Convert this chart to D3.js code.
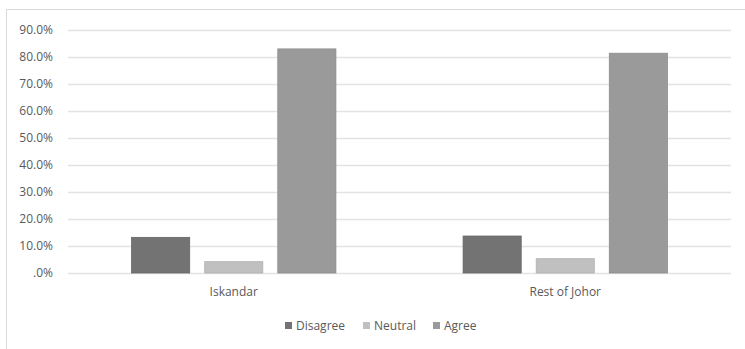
<!DOCTYPE html>
<html><head><meta charset="utf-8">
<script src="https://cdn.jsdelivr.net/npm/d3@7"></script>
<style>body{margin:0;background:#fff}svg{display:block}text{font-family:"Open Sans",sans-serif}</style>
</head><body>
<svg id="c" width="745" height="349"></svg>
<script>
const categories = ["Iskandar", "Rest of Johor"];
const seriesNames = ["Disagree", "Neutral", "Agree"];
const disagree = [13.2, 13.7];
const neutral = [4.2, 5.3];
const agree = [83.0, 81.4];
const yTicks = [0, 10, 20, 30, 40, 50, 60, 70, 80, 90];
const colors = ["#737373", "#c0c0c0", "#9a9a9a"];
const strokes = ["#666666", "#b0b0b0", "#8c8c8c"];
const values = [disagree, neutral, agree];

(function () {
const svg = d3.select("#c");
// chart border (top and left visible)
svg.append("rect").attr("x", 6.5).attr("y", 9.5).attr("width", 760).attr("height", 360)
  .attr("fill", "none").attr("stroke", "#d9d9d9").attr("stroke-width", 1);

const pL = 68, pR = 731, pT = 30, pB = 273;
const y = d3.scaleLinear().domain([0, 90]).range([pB, pT]);
const x0 = d3.scaleBand().domain(categories).range([pL, pR]).padding(0);
const x1 = d3.scaleBand().domain(seriesNames).range([0, x0.bandwidth()])
  .paddingInner(0.205).paddingOuter(0.87);

// gridlines
svg.append("g").selectAll("line").data(yTicks).join("line")
  .attr("x1", pL).attr("x2", pR)
  .attr("y1", d => Math.round(y(d)) + 0.5).attr("y2", d => Math.round(y(d)) + 0.5)
  .attr("stroke", "#e3e3e3").attr("stroke-width", 1.5);

// y labels
svg.append("g").selectAll("text").data(yTicks).join("text")
  .attr("x", 53).attr("y", d => y(d)).attr("dy", "0.35em")
  .attr("text-anchor", "end").attr("font-size", 12).attr("fill", "#595959")
  .text(d => d === 0 ? ".0%" : d.toFixed(1) + "%");

// bars
const g = svg.append("g").selectAll("g").data(categories).join("g")
  .attr("transform", d => `translate(${x0(d)},0)`);
g.selectAll("rect").data((c, ci) => seriesNames.map((s, si) => ({s, si, v: values[si][ci]})))
  .join("rect")
  .attr("x", d => x1(d.s)).attr("width", x1.bandwidth())
  .attr("y", d => y(d.v)).attr("height", d => y(0) - y(d.v))
  .attr("fill", d => colors[d.si]).attr("stroke", d => strokes[d.si]).attr("stroke-width", 0.8);

// x labels
svg.append("g").selectAll("text").data(categories).join("text")
  .attr("x", d => x0(d) + x0.bandwidth() / 2).attr("y", 296)
  .attr("text-anchor", "middle").attr("font-size", 12).attr("fill", "#595959")
  .text(d => d);

// legend
const legX = [285, 363, 433];
const leg = svg.append("g").selectAll("g").data(seriesNames).join("g")
  .attr("transform", (d, i) => `translate(${legX[i]},326)`);
leg.append("rect").attr("x", 0).attr("y", -4).attr("width", 7).attr("height", 7)
  .attr("fill", (d, i) => colors[i]);
leg.append("text").attr("x", 11).attr("y", 0).attr("dy", "0.35em")
  .attr("font-size", 12).attr("fill", "#595959").text(d => d);
})();
</script>
</body></html>
